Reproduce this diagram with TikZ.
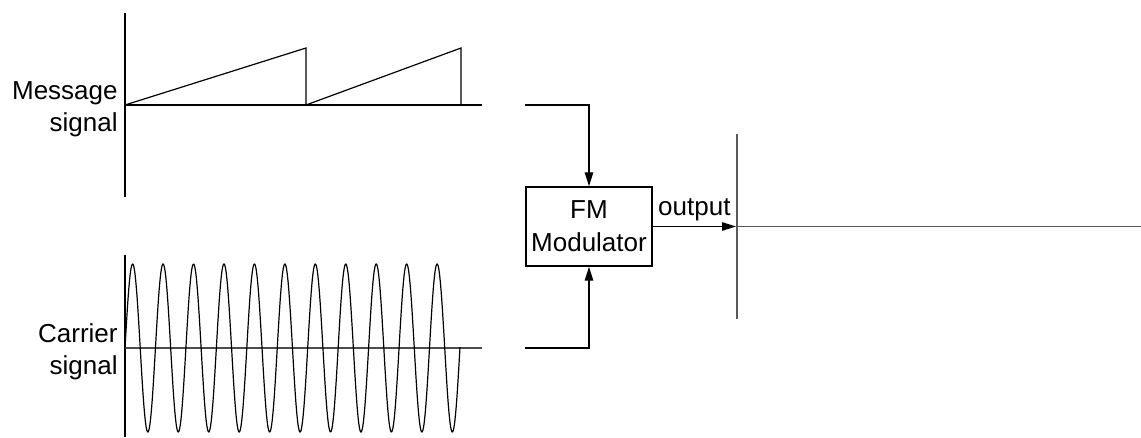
\documentclass[tikz,border=0pt]{standalone}
\usepackage{fontspec}
\setmainfont{Liberation Sans}
\usetikzlibrary{arrows.meta,positioning,calc}

\begin{document}
\begin{tikzpicture}[x=0.5pt, y=-0.5pt,
    axis/.style={line width=0.7pt},
    wave/.style={line width=0.6pt},
    block/.style={draw, line width=0.7pt, minimum width=63pt, minimum height=39.5pt, inner sep=1pt, align=center, font=\fontsize{13}{16.5}\selectfont},
    lbl/.style={align=right, inner sep=0pt, font=\fontsize{13}{16}\selectfont},
    arrow/.style={-{Triangle[length=7pt,width=4.2pt]}, line width=0.7pt}
]
    \useasboundingbox (0,0) rectangle (1141,438);

    % Message signal (sawtooth)
    \node[lbl, anchor=east] (msglbl) at (118,109) {Message\\signal};
    \draw[axis] (125,13) -- (125,197);
    \draw[axis] (125,105) -- (482,105);
    \draw[wave] (125,105) -- (306,48) -- (306,105) -- (461,48) -- (461,105);
    \coordinate (msgend) at (525,105);

    % Carrier signal (sine)
    \node[lbl, anchor=east] (carlbl) at (118,352) {Carrier\\signal};
    \draw[axis] (125,255) -- (125,437);
    \draw[axis, black!70] (125,348) -- (482,348);
    \draw[wave] plot[domain=125:460, samples=600] (\x, {348 - 84*sin((\x-125)/30.45*360)});
    \coordinate (carend) at (525,348);

    % Modulator
    \node[block] (fm) at (589,226.5) {FM\\Modulator};
    \draw[arrow] (msgend) -| (fm.north);
    \draw[arrow] (carend) -| (fm.south);

    % Output axes
    \coordinate (outorg) at (736,226.5);
    \draw[axis, black!65] (737,134) -- (737,319);
    \draw[axis, black!65] (737,226.5) -- (1141,226.5);
    \draw[arrow] (fm.east) -- node[above, inner sep=2.5pt, font=\fontsize{13}{16}\selectfont] {output} (outorg);
\end{tikzpicture}
\end{document}
